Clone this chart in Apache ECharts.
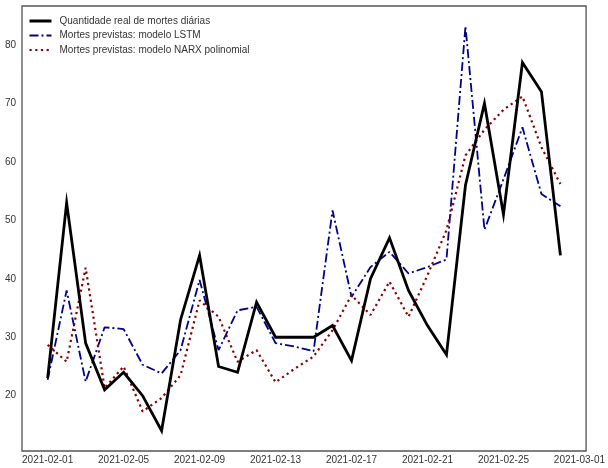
<!DOCTYPE html>
<html>
<head>
<meta charset="utf-8">
<script src="https://cdn.jsdelivr.net/npm/echarts@6/dist/echarts.min.js"></script>
<style>
  html, body { margin: 0; padding: 0; background: #fff; }
  #chart { width: 608px; height: 468px; }
</style>
</head>
<body>
<div id="chart"></div>
<script>
// Daily deaths: observed counts and two model forecasts (Feb 2021)
const dates = [
  '2021-02-01','2021-02-02','2021-02-03','2021-02-04','2021-02-05','2021-02-06','2021-02-07',
  '2021-02-08','2021-02-09','2021-02-10','2021-02-11','2021-02-12','2021-02-13','2021-02-14',
  '2021-02-15','2021-02-16','2021-02-17','2021-02-18','2021-02-19','2021-02-20','2021-02-21',
  '2021-02-22','2021-02-23','2021-02-24','2021-02-25','2021-02-26','2021-02-27','2021-02-28'
];
const realDeaths = [23,53,29,21,24,20,14,33,44,25,24,36,30,30,30,32,26,40,47,38,32,27,56,70,51,77,72,44];
const lstmForecast = [22.7,38.0,22.4,31.7,31.4,25.3,23.8,27.8,39.8,27.8,34.6,35.2,29.0,28.4,27.6,51.7,36.9,42.0,44.6,40.9,42.0,43.3,83.2,48.4,57.0,65.9,54.5,52.4];
const narxForecast = [28.7,25.8,41.9,21.3,25.0,17.3,19.6,23.5,36.3,33.5,25.8,27.8,22.3,24.6,26.7,31.2,37.2,33.8,39.5,33.5,40.6,48.3,61.1,65.5,68.9,71.2,62.5,56.2];
const xTickDates = ['2021-02-01','2021-02-05','2021-02-09','2021-02-13','2021-02-17','2021-02-21','2021-02-25','2021-03-01'];
const yTicks = [20, 30, 40, 50, 60, 70, 80];

const seriesNames = [
  'Quantidade real de mortes diárias',
  'Mortes previstas: modelo LSTM',
  'Mortes previstas: modelo NARX polinomial'
];

const DAY = 86400000;
const toDay = s => Date.parse(s + 'T00:00:00Z') / DAY;
const dayToLabel = d => new Date(Math.round(d) * DAY).toISOString().slice(0, 10);

const xs = dates.map(toDay);
const pair = vals => xs.map((x, i) => [x, vals[i]]);

// 5% padding around the data range on both axes
const xMin = xs[0], xMax = xs[xs.length - 1];
const xPad = (xMax - xMin) * 0.05;
const allVals = realDeaths.concat(lstmForecast, narxForecast);
const yLo = Math.min(...allVals), yHi = Math.max(...allVals);
const yPad = (yHi - yLo) * 0.05;

const font = 'Liberation Sans, Arial, sans-serif';
const chart = echarts.init(document.getElementById('chart'));
chart.setOption({
  animation: false,
  backgroundColor: '#ffffff',
  grid: { left: 22, right: 17, top: 6, bottom: 17, show: true, borderColor: '#555555', borderWidth: 1.3, backgroundColor: 'transparent' },
  legend: {
    data: [
      { name: seriesNames[0], lineStyle: { width: 3 } },
      { name: seriesNames[1] },
      { name: seriesNames[2] }
    ],
    orient: 'vertical',
    left: 23,
    top: 11,
    itemWidth: 22,
    itemHeight: 10,
    itemGap: 4.5,
    itemStyle: { opacity: 0 },
    textStyle: { fontFamily: font, fontSize: 10, color: '#333333', padding: [0, 0, 0, 3] }
  },
  xAxis: {
    type: 'value',
    min: xMin - xPad,
    max: xMax + xPad,
    axisLine: { show: false },
    axisTick: { show: false },
    splitLine: { show: false },
    axisLabel: {
      customValues: xTickDates.map(toDay),
      formatter: v => dayToLabel(v),
      fontFamily: font, fontSize: 10, color: '#333333', margin: 4,
      showMinLabel: true, showMaxLabel: true
    }
  },
  yAxis: {
    type: 'value',
    min: yLo - yPad,
    max: yHi + yPad,
    axisLine: { show: false },
    axisTick: { show: false },
    splitLine: { show: false },
    axisLabel: {
      customValues: yTicks,
      fontFamily: font, fontSize: 10, color: '#333333', margin: 6
    }
  },
  series: [
    {
      name: seriesNames[0], type: 'line', data: pair(realDeaths),
      symbol: 'none', z: 3,
      lineStyle: { color: '#000000', width: 2.8, join: 'miter' },
      itemStyle: { color: '#000000' }
    },
    {
      name: seriesNames[1], type: 'line', data: pair(lstmForecast),
      symbol: 'none', z: 2,
      lineStyle: { color: '#00008b', width: 1.8, type: [9, 3, 2, 3] },
      itemStyle: { color: '#00008b' }
    },
    {
      name: seriesNames[2], type: 'line', data: pair(narxForecast),
      symbol: 'none', z: 2,
      lineStyle: { color: '#8b0000', width: 2.2, type: [2.2, 3.5] },
      itemStyle: { color: '#8b0000' }
    }
  ]
});
</script>
</body>
</html>
